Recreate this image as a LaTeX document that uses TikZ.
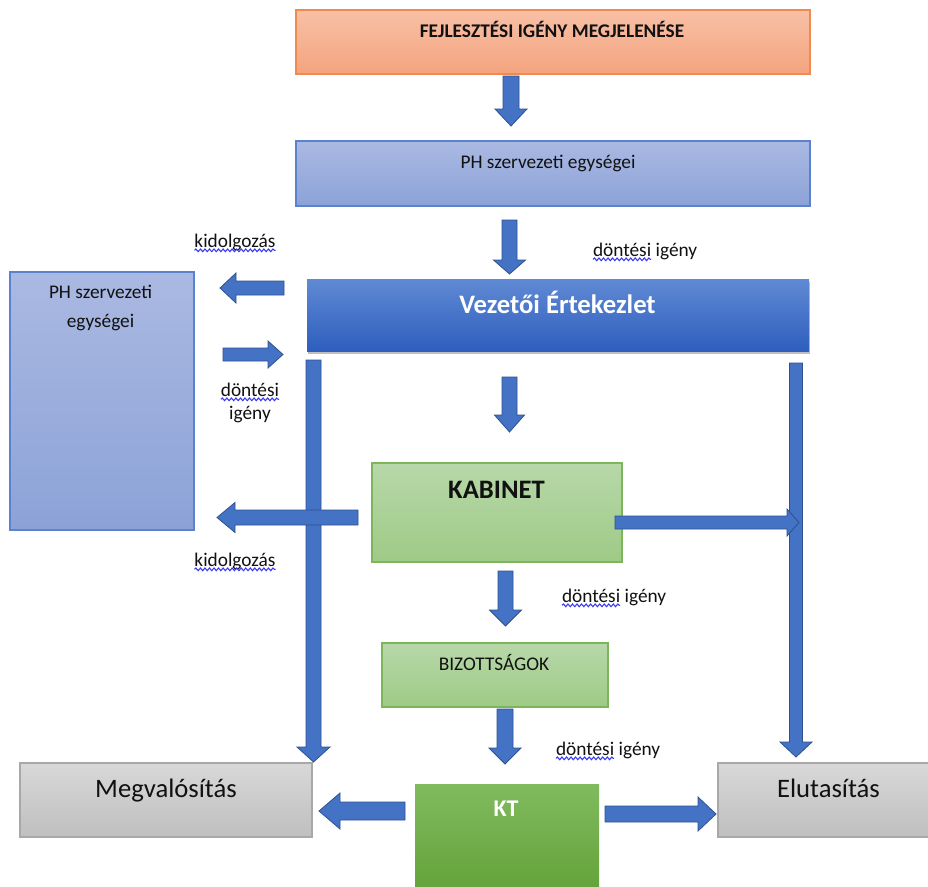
\documentclass[tikz,border=0pt]{standalone}
\usepackage{fontspec}
\setmainfont{Carlito}
\usetikzlibrary{fit,shadows,decorations.pathmorphing}
\definecolor{arrfill}{HTML}{4472C4}
\definecolor{arrline}{HTML}{2F528F}
\definecolor{orgtop}{HTML}{F8C0A6}
\definecolor{orgbot}{HTML}{F4A47E}
\definecolor{orgline}{HTML}{F08A4E}
\definecolor{blutop}{HTML}{AAB9E2}
\definecolor{blubot}{HTML}{8CA2D7}
\definecolor{bluline}{HTML}{5B82CC}
\definecolor{veztop}{HTML}{608AD4}
\definecolor{vezbot}{HTML}{2E5EBE}
\definecolor{grntop}{HTML}{B7D8A9}
\definecolor{grnbot}{HTML}{9ECA86}
\definecolor{grnline}{HTML}{7DB65A}
\definecolor{kttop}{HTML}{80BB5E}
\definecolor{ktbot}{HTML}{64A23A}
\definecolor{grytop}{HTML}{D8D8D8}
\definecolor{grybot}{HTML}{BFBFBF}
\definecolor{gryline}{HTML}{A8A8A8}
\definecolor{sqblue}{HTML}{3A3AF0}
\definecolor{txt}{HTML}{111111}
\newcommand\darrow[6]{% xc, ytop, yhead, ytip, shaft half, head half
  \filldraw[barrow] ({#1-#5},#2) -- ({#1+#5},#2) -- ({#1+#5},#3) -- ({#1+#6},#3) -- (#1,#4) -- ({#1-#6},#3) -- ({#1-#5},#3) -- cycle;}
\newcommand\harrow[6]{% yc, xstart, xhead, xtip, shaft half, head half
  \filldraw[barrow] (#2,{#1-#5}) -- (#3,{#1-#5}) -- (#3,{#1-#6}) -- (#4,#1) -- (#3,{#1+#6}) -- (#3,{#1+#5}) -- (#2,{#1+#5}) -- cycle;}
\begin{document}
\begin{tikzpicture}[x=0.75pt,y=-0.75pt,
  box/.style={inner sep=0pt, outer sep=0pt, line width=0.8pt},
  orangebox/.style={box, draw=orgline, top color=orgtop, bottom color=orgbot},
  bluebox/.style={box, draw=bluline, top color=blutop, bottom color=blubot},
  vezbox/.style={box, top color=veztop, bottom color=vezbot,
    drop shadow={shadow xshift=0.8pt, shadow yshift=-2pt, fill=black, opacity=0.25}},
  greenbox/.style={box, draw=grnline, top color=grntop, bottom color=grnbot},
  ktbox/.style={box, top color=kttop, bottom color=ktbot},
  graybox/.style={box, draw=gryline, top color=grytop, bottom color=grybot},
  lbl/.style={inner sep=0pt, outer sep=0pt, text=txt, font=\fontsize{14.5}{17}\selectfont},
  big/.style={inner sep=0pt, outer sep=0pt, text=txt, font=\fontsize{20}{24}\selectfont},
  barrow/.style={fill=arrfill, draw=arrline, line width=0.6pt, line join=miter},
  squig/.style={draw=sqblue, line width=0.8pt, decorate,
    decoration={snake, amplitude=1pt, segment length=3.4pt}}
]
\useasboundingbox (0,0) rectangle (928,886);
\fill[white] (0,0) rectangle (928,886);

% boxes
\node[orangebox, fit={(296,10)(810,74)}] (fej) {};
\node[bluebox, fit={(296,141)(810,206)}] (ph1) {};
\node[vezbox, fit={(307,279)(809,351)}] (vez) {};
\node[bluebox, fit={(10,272)(194,530)}] (ph2) {};
\node[greenbox, fit={(372,463)(622,562)}] (kab) {};
\node[greenbox, fit={(382,643)(608,707)}] (biz) {};
\node[ktbox, fit={(415,784)(599,892)}] (kt) {};
\node[graybox, fit={(20,763)(312,837)}] (megv) {};
\node[graybox, fit={(718,763)(934,837)}] (elut) {};

% box texts
\node[lbl, font=\fontsize{14.5}{17}\selectfont\bfseries, anchor=base] (tfej) at (552,37) {FEJLESZTÉSI IGÉNY MEGJELENÉSE};
\node[lbl, anchor=base] (tph1) at (548,168) {PH szervezeti egységei};
\node[big, text=white, font=\fontsize{20}{24}\selectfont\bfseries, anchor=base] (tvez) at (557.5,313) {Vezetői Értekezlet};
\node[lbl, anchor=base] (tph2a) at (100.5,298) {PH szervezeti};
\node[lbl, anchor=base] (tph2b) at (100.5,327) {egységei};
\node[big, font=\fontsize{20}{24}\selectfont\bfseries, anchor=base] (tkab) at (496.5,498) {KABINET};
\node[lbl, anchor=base] (tbiz) at (494,670) {BIZOTTSÁGOK};
\node[big, text=white, font=\fontsize{18}{22}\selectfont\bfseries, anchor=base] (tkt) at (506,816) {KT};
\node[big, anchor=base] (tmegv) at (166,797) {Megvalósítás};
\node[big, anchor=base] (telut) at (828.5,797) {Elutasítás};

% vertical block arrows
\darrow{511}{76}{109}{126}{8}{16}
\darrow{509.5}{220}{260}{274}{7.5}{16}
\darrow{509.5}{377}{415}{432}{7.5}{15}
\darrow{505.5}{571}{610}{626}{7.5}{16}
\darrow{505}{709}{748}{764}{8}{16}
\darrow{313.5}{360}{747}{762}{7.5}{16.5}
\darrow{796}{363}{742}{757}{6.5}{16}
% horizontal block arrows
\harrow{288}{284}{236}{220}{7}{15}
\harrow{354.5}{223}{268}{283}{6.5}{13.5}
\harrow{517.5}{358}{235}{217}{7.5}{15}
\harrow{522.5}{615}{787}{799}{6.5}{13.5}
\harrow{811}{405}{340}{319}{9}{18}
\harrow{814}{605}{698}{716}{8}{17}

% labels
\node[lbl, anchor=base] (k1) at (235,247) {kidolgozás};
\draw[squig] ([yshift=-2.5pt]k1.base west) -- ([yshift=-2.5pt]k1.base east);
\node[lbl, anchor=base] (k2) at (235,566) {kidolgozás};
\draw[squig] ([yshift=-2.5pt]k2.base west) -- ([yshift=-2.5pt]k2.base east);

\node[lbl, anchor=base west] (d1a) at (593,256) {döntési};
\node[lbl, anchor=base west] (d1b) at ([xshift=3.3pt]d1a.base east) {igény};
\draw[squig] ([yshift=-2.5pt]d1a.base west) -- ([yshift=-2.5pt]d1a.base east);

\node[lbl, anchor=base] (d2a) at (250,396) {döntési};
\draw[squig] ([yshift=-2.5pt]d2a.base west) -- ([yshift=-2.5pt]d2a.base east);
\node[lbl, anchor=base] (d2b) at (250,419) {igény};

\node[lbl, anchor=base west] (d3a) at (562,602) {döntési};
\node[lbl, anchor=base west] (d3b) at ([xshift=3.3pt]d3a.base east) {igény};
\draw[squig] ([yshift=-2.5pt]d3a.base west) -- ([yshift=-2.5pt]d3a.base east);

\node[lbl, anchor=base west] (d4a) at (556,755) {döntési};
\node[lbl, anchor=base west] (d4b) at ([xshift=3.3pt]d4a.base east) {igény};
\draw[squig] ([yshift=-2.5pt]d4a.base west) -- ([yshift=-2.5pt]d4a.base east);
\end{tikzpicture}
\end{document}
